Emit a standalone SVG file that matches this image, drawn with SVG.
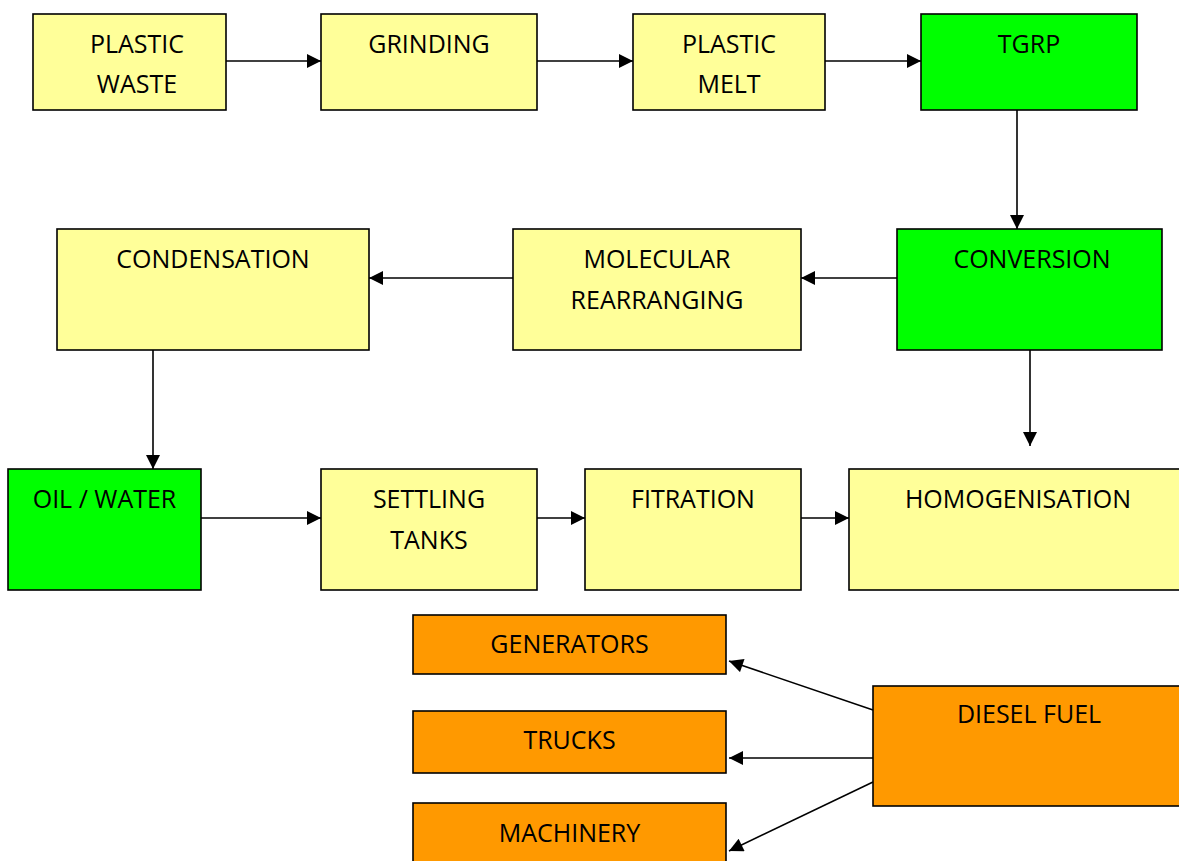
<svg xmlns="http://www.w3.org/2000/svg" width="1179" height="861" viewBox="0 0 1179 861">
<style>
rect{stroke:#000;stroke-width:1.6}
.y{fill:#FFFF99}.g{fill:#00FF00}.o{fill:#FF9900}
text{font-family:"Open Sans","Noto Sans","Liberation Sans",sans-serif;font-size:25px;fill:#000;text-anchor:middle}
#connectors line{stroke:#000;stroke-width:1.6;marker-end:url(#ah)}
</style>
<defs>
<marker id="ah" viewBox="0 0 10 10" refX="10" refY="5" markerWidth="10" markerHeight="10" markerUnits="userSpaceOnUse" orient="auto"><path d="M0,0 L10,5 L0,10 Z" fill="#000"/></marker>
<marker id="ah2" viewBox="0 0 10 10" refX="10" refY="5" markerWidth="16" markerHeight="14" markerUnits="userSpaceOnUse" orient="auto"><path d="M0,0 L10,5 L0,10 Z" fill="#000"/></marker>
</defs>
<rect width="1179" height="861" fill="#fff" style="stroke:none"/>
<g id="connectors">
<line x1="226" y1="61" x2="321" y2="61" style="marker-end:url(#ah2)"/>
<line x1="537" y1="61" x2="633" y2="61" style="marker-end:url(#ah2)"/>
<line x1="825" y1="61" x2="921" y2="61" style="marker-end:url(#ah2)"/>
<line x1="1017" y1="110" x2="1017" y2="229" style="marker-end:url(#ah2)"/>
<line x1="897" y1="278" x2="801" y2="278" style="marker-end:url(#ah2)"/>
<line x1="513" y1="278" x2="369" y2="278" style="marker-end:url(#ah2)"/>
<line x1="1030" y1="350" x2="1030" y2="446" style="marker-end:url(#ah2)"/>
<line x1="153" y1="350" x2="153" y2="469" style="marker-end:url(#ah2)"/>
<line x1="201" y1="518" x2="321" y2="518" style="marker-end:url(#ah2)"/>
<line x1="537" y1="518" x2="585" y2="518" style="marker-end:url(#ah2)"/>
<line x1="801" y1="518" x2="849" y2="518" style="marker-end:url(#ah2)"/>
<line x1="873" y1="710" x2="729" y2="661" style="marker-end:url(#ah2)"/>
<line x1="873" y1="758" x2="729" y2="758" style="marker-end:url(#ah2)"/>
<line x1="873" y1="782" x2="729" y2="851" style="marker-end:url(#ah2)"/>
</g>
<g id="plastic-waste"><rect class="y" x="33" y="14" width="193" height="96"/><text x="137" y="53">PLASTIC</text><text x="137" y="93">WASTE</text></g>
<g id="grinding"><rect class="y" x="321" y="14" width="216" height="96"/><text x="429" y="53">GRINDING</text></g>
<g id="plastic-melt"><rect class="y" x="633" y="14" width="192" height="96"/><text x="729" y="53">PLASTIC</text><text x="729" y="93">MELT</text></g>
<g id="tgrp"><rect class="g" x="921" y="14" width="216" height="96"/><text x="1029" y="53">TGRP</text></g>
<g id="conversion"><rect class="g" x="897" y="229" width="265" height="121"/><text x="1032" y="268">CONVERSION</text></g>
<g id="molecular"><rect class="y" x="513" y="229" width="288" height="121"/><text x="657" y="268">MOLECULAR</text><text x="657" y="309">REARRANGING</text></g>
<g id="condensation"><rect class="y" x="57" y="229" width="312" height="121"/><text x="213" y="268">CONDENSATION</text></g>
<g id="oil-water"><rect class="g" x="8" y="469" width="193" height="121"/><text x="104.5" y="508">OIL / WATER</text></g>
<g id="settling"><rect class="y" x="321" y="469" width="216" height="121"/><text x="429" y="508">SETTLING</text><text x="429" y="549">TANKS</text></g>
<g id="fitration"><rect class="y" x="585" y="469" width="216" height="121"/><text x="693" y="508">FITRATION</text></g>
<g id="homogenisation"><rect class="y" x="849" y="469" width="340" height="121"/><text x="1018" y="508">HOMOGENISATION</text></g>
<g id="generators"><rect class="o" x="413" y="615" width="313" height="59"/><text x="569.5" y="653">GENERATORS</text></g>
<g id="trucks"><rect class="o" x="413" y="711" width="313" height="62"/><text x="569.5" y="749">TRUCKS</text></g>
<g id="machinery"><rect class="o" x="413" y="803" width="313" height="70"/><text x="569.5" y="842">MACHINERY</text></g>
<g id="diesel-fuel"><rect class="o" x="873" y="686" width="320" height="120"/><text x="1029" y="723">DIESEL FUEL</text></g>
</svg>
